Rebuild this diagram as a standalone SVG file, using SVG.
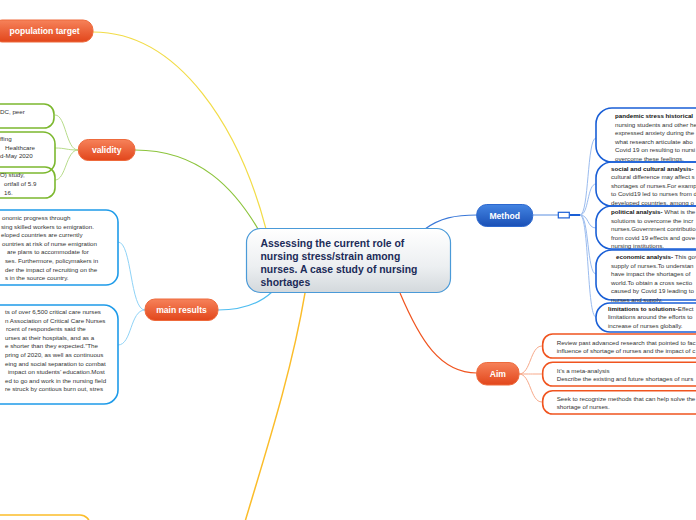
<svg xmlns="http://www.w3.org/2000/svg" width="696" height="520" viewBox="0 0 696 520">
<defs>
<linearGradient id="gOr" x1="0" y1="0" x2="0" y2="1"><stop offset="0" stop-color="#f6825a"/><stop offset="1" stop-color="#e2461b"/></linearGradient>
<linearGradient id="gBl" x1="0" y1="0" x2="0" y2="1"><stop offset="0" stop-color="#4384e2"/><stop offset="1" stop-color="#1a50b6"/></linearGradient>
<linearGradient id="gC" x1="0" y1="0" x2="0" y2="1"><stop offset="0" stop-color="#ffffff"/><stop offset="0.6" stop-color="#eceff1"/><stop offset="1" stop-color="#d3d8dc"/></linearGradient>
<style>
.pill text{font-family:"Liberation Sans",Arial,sans-serif;font-weight:bold;font-size:8.6px;fill:#fff;text-anchor:middle}
.or rect{fill:url(#gOr);stroke:#ee6a3c;stroke-width:1}
.bl rect{fill:url(#gBl);stroke:#2c68cf;stroke-width:1}
.t{font-family:"Liberation Sans",Arial,sans-serif;font-size:6.2px;fill:#333}
.b{font-weight:bold;fill:#111}
.box{fill:none;stroke-width:1.6}
.gr{stroke:#7cb82f}
.lb{stroke:#1e9be9}
.db{stroke:#1a5fd6}
.oa{stroke:#f0541f}
.yb{stroke:#fbbd2a}
.c{fill:none}
</style>
</defs>
<rect width="696" height="520" fill="#fff"/>
<g id="connectors">
<path class="c" d="M93 32 C180 32 240 130 266 229" stroke="#f2dc48" stroke-width="1.2"/>
<path class="c" d="M135 150 C200 150 235 190 258 229" stroke="#8cc43c" stroke-width="1.2"/>
<path class="c" d="M218 310 C240 310 258 305 272 292" stroke="#4fbdf0" stroke-width="1.2"/>
<path class="c" d="M305 293 C292 370 268 445 244 525" stroke="#fbbd2a" stroke-width="1.5"/>
<path class="c" d="M425 229 C440 218 455 215 477 215" stroke="#3a78d8" stroke-width="1.2"/>
<path class="c" d="M400 293 C420 340 440 373 477 373" stroke="#f0541f" stroke-width="1.2"/>
<g stroke="#b7dc8a" stroke-width="1" fill="none">
<path d="M78 150 C66 150 66 115 55 115"/>
<path d="M78 150 C66 150 66 148 55 148"/>
<path d="M78 150 C66 150 66 180 55 180"/>
</g>
<g stroke="#8fd3f7" stroke-width="1" fill="none">
<path d="M145 310 C130 310 132 242 118 242"/>
<path d="M145 310 C130 310 132 345 118 345"/>
</g>
<path d="M533 215 L558 215" stroke="#5b8fe0" stroke-width="1"/>
<path d="M570 215 L580 215" stroke="#1a5fd6" stroke-width="2"/>
<g stroke="#9bbcef" stroke-width="1" fill="none">
<path d="M580 215 C589 215 587 138 596 138"/>
<path d="M580 215 C589 215 587 184 596 184"/>
<path d="M580 215 C589 215 587 228 596 228"/>
<path d="M580 215 C589 215 587 274 596 274"/>
<path d="M580 215 C589 215 587 317 596 317"/>
</g>
<g stroke="#f7a98a" stroke-width="1" fill="none">
<path d="M519 374 C531 374 530 346 542 346"/>
<path d="M519 374 C531 374 530 374 542 374"/>
<path d="M519 374 C531 374 530 402 542 402"/>
</g>
</g>
<g id="center">
<rect x="246.5" y="228.5" width="204" height="64" rx="14" fill="url(#gC)" stroke="#4a9ad8" stroke-width="1.2"/>
<g font-family="Liberation Sans, Arial, sans-serif" font-weight="bold" font-size="10.4" fill="#1c2b58">
<text x="260.5" y="246.5">Assessing the current role of</text>
<text x="260.5" y="259.5">nursing stress/strain among</text>
<text x="260.5" y="272.5">nurses. A case study of nursing</text>
<text x="260.5" y="285.5">shortages</text>
</g>
</g>
<g id="population-target" class="pill or"><rect x="-8" y="20" width="101" height="22" rx="10"/><text x="44.5" y="34">population target</text></g>
<g id="validity" class="pill or"><rect x="78.3" y="139.5" width="56.7" height="21" rx="10"/><text x="106.7" y="153">validity</text></g>
<g id="main-results" class="pill or"><rect x="145" y="299" width="73" height="21.5" rx="10"/><text x="181.5" y="313">main results</text></g>
<g id="method" class="pill bl"><rect x="476.7" y="204.5" width="56" height="22" rx="10"/><text x="504.7" y="218.5">Method</text></g>
<g id="aim" class="pill or"><rect x="476.7" y="362.5" width="42.3" height="22.5" rx="10"/><text x="497.8" y="377">Aim</text></g>
<g id="method-toggle"><rect x="558.3" y="212.3" width="11" height="5.6" fill="#fff" stroke="#1a5fd6" stroke-width="1.2"/></g>
<g id="validity-1"><rect class="box gr" x="-20" y="104" width="74" height="24" rx="10"/><text class="t" x="0" y="114">DC, peer</text></g>
<g id="validity-2"><rect class="box gr" x="-20" y="132" width="75" height="41" rx="12"/>
<text class="t" x="0" y="140.7">ffing</text><text class="t" x="5" y="149.5">Healthcare</text><text class="t" x="0" y="158.3">d-May 2020</text></g>
<g id="validity-3"><rect class="box gr" x="-20" y="167" width="75" height="31" rx="10"/>
<text class="t" x="0" y="177">O) study,</text><text class="t" x="4" y="186">ortfall of 5.9</text><text class="t" x="4" y="194.5">16.</text></g>
<g id="results-1"><rect class="box lb" x="-20" y="210" width="138" height="75" rx="12"/>
<text class="t" x="2" y="220">onomic progress through</text>
<text class="t" x="1" y="228.6">sing skilled workers to emigration.</text>
<text class="t" x="1" y="237.2">eloped countries are currently</text>
<text class="t" x="2" y="245.8">ountries at risk of nurse emigration</text>
<text class="t" x="7" y="254.4">are plans to accommodate for</text>
<text class="t" x="5" y="263">ses. Furthermore, policymakers in</text>
<text class="t" x="5" y="271.6">der the impact of recruiting on the</text>
<text class="t" x="5" y="280.2">s in the source country.</text>
</g>
<g id="results-2"><rect class="box lb" x="-20" y="305" width="138" height="99" rx="14"/>
<text class="t" x="5" y="313.9">ts of over 6,500 critical care nurses</text>
<text class="t" x="5" y="322.5">n Association of Critical Care Nurses</text>
<text class="t" x="6" y="331.1">rcent of respondents said the</text>
<text class="t" x="5" y="339.7">urses at their hospitals, and as a</text>
<text class="t" x="5" y="348.3">e shorter than they expected.”The</text>
<text class="t" x="5" y="356.9">pring of 2020, as well as continuous</text>
<text class="t" x="5" y="365.5">eing and social separation to combat</text>
<text class="t" x="8" y="374.1">impact on students’ education.Most</text>
<text class="t" x="5" y="382.7">ed to go and work in the nursing field</text>
<text class="t" x="5" y="391.3">re struck by contious burn out, stres</text>
</g>
<g id="bottom-node"><rect class="box yb" x="-20" y="515" width="110" height="40" rx="10"/></g>
<g id="method-1"><rect class="box db" x="596" y="108" width="130" height="54" rx="16"/>
<text class="t b" x="615" y="117.9">pandemic stress historical</text>
<text class="t" x="615" y="126.5">nursing students and other he</text>
<text class="t" x="615" y="135.1">expressed anxiety during the</text>
<text class="t" x="615" y="143.7">what research articulate abo</text>
<text class="t" x="615" y="152.3">Covid 19 on resulting to nursi</text>
<text class="t" x="615" y="160.9">overcome these feelings.</text>
</g>
<g id="method-2"><rect class="box db" x="596" y="162" width="130" height="44" rx="16"/>
<text class="t b" x="611" y="170.5">social and cultural analysis-</text>
<text class="t" x="611" y="179.1">cultural difference may affect s</text>
<text class="t" x="611" y="187.7">shortages of nurses.For examp</text>
<text class="t" x="611" y="196.3">to Covid19 led to nurses from d</text>
<text class="t" x="611" y="204.9">developed countries, among o</text>
</g>
<g id="method-3"><rect class="box db" x="596" y="206" width="130" height="43" rx="16"/>
<text class="t" x="611" y="213.9"><tspan class="b">political analysis-</tspan> What is the</text>
<text class="t" x="611" y="222.5">solutions to overcome the incr</text>
<text class="t" x="611" y="231.1">nurses.Government contributio</text>
<text class="t" x="611" y="239.7">from covid 19 effects and gove</text>
<text class="t" x="611" y="248.3">nursing institutions.</text>
</g>
<g id="method-4"><rect class="box db" x="596" y="250" width="130" height="50" rx="16"/>
<text class="t" x="616" y="258.9"><tspan class="b">economic analysis-</tspan> This gov</text>
<text class="t" x="611" y="267.5">supply of nurses.To understan</text>
<text class="t" x="611" y="276.1">have impact the shortages of</text>
<text class="t" x="611" y="284.7">world.To obtain a cross sectio</text>
<text class="t" x="611" y="293.3">caused by Covid 19 leading to</text>
<text class="t" x="611" y="301.9">nurses and supply.</text>
</g>
<g id="method-5"><rect class="box db" x="596" y="303" width="130" height="29" rx="14"/>
<text class="t" x="608" y="310.5"><tspan class="b">limitations to solutions-</tspan>Effect</text>
<text class="t" x="608" y="319.1">limitations around the efforts to</text>
<text class="t" x="608" y="327.7">increase of nurses globally.</text>
</g>
<g id="aim-1"><rect class="box oa" x="542.7" y="334" width="170" height="24" rx="10"/>
<text class="t" x="556.7" y="344.7">Review past advanced research that pointed to fac</text>
<text class="t" x="556.7" y="352.7">influence of shortage of nurses and the impact of c</text>
</g>
<g id="aim-2"><rect class="box oa" x="542.7" y="362.3" width="170" height="23.7" rx="10"/>
<text class="t" x="556.7" y="372.7">It’s a meta-analysis</text>
<text class="t" x="556.7" y="380.7">Describe the existing and future shortages of nurs</text>
</g>
<g id="aim-3"><rect class="box oa" x="542.7" y="390.7" width="170" height="23.3" rx="10"/>
<text class="t" x="556.7" y="400.9">Seek to recognize methods that can help solve the</text>
<text class="t" x="556.7" y="408.9">shortage of nurses.</text>
</g>
</svg>
